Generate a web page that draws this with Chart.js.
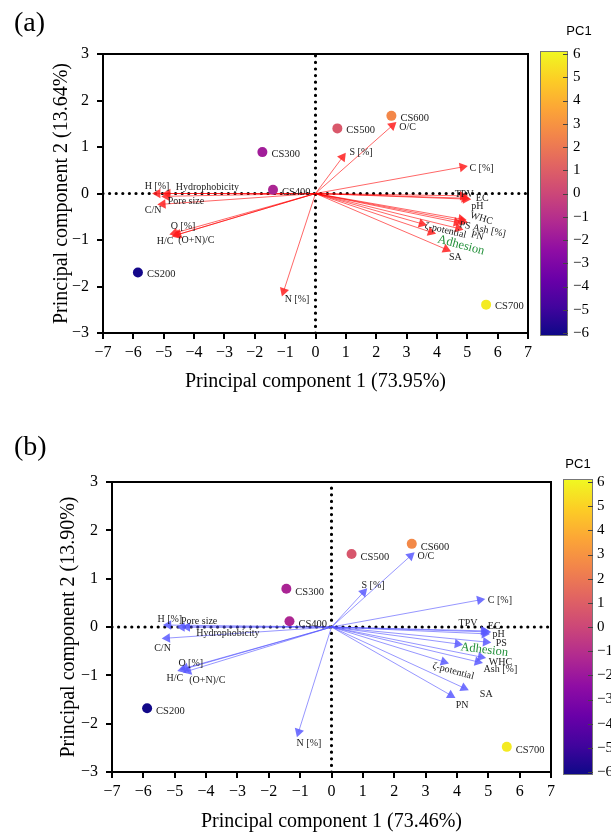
<!DOCTYPE html>
<html>
<head>
<meta charset="utf-8">
<script src="https://cdn.jsdelivr.net/npm/chart.js@4.4.1/dist/chart.umd.min.js"></script>
<style>
  body { margin: 0; background: #fff; }
  #wrap { position: relative; width: 611px; height: 835px; }
  .panel { position: absolute; left: 0; width: 611px; }
</style>
</head>
<body>
<div id="wrap">
  <div class="panel" style="top:0;height:417px"><canvas id="chartA"></canvas></div>
  <div class="panel" style="top:417px;height:418px"><canvas id="chartB"></canvas></div>
</div>
<script>
// sample scores
const samples = ['CS200', 'CS300', 'CS400', 'CS500', 'CS600', 'CS700'];
const pc1A = [-5.85, -1.75, -1.4, 0.72, 2.5, 5.62];
const pc2A = [-1.7, 0.89, 0.08, 1.4, 1.67, -2.39];
const pc1B = [-5.88, -1.44, -1.34, 0.64, 2.56, 5.59];
const pc2B = [-1.68, 0.79, 0.12, 1.51, 1.72, -2.48];

// loadings (arrow tips)
const variables = ['H [%]', 'Hydrophobicity', 'Pore size', 'C/N', 'O [%]', 'H/C', '(O+N)/C', 'N [%]', 'S [%]', 'O/C', 'C [%]',
  'TPV', 'EC', 'pH', 'WHC', 'PS', 'Ash [%]', 'PN', 'ζ-potential', 'Adhesion', 'SA'];
const loadXA = [-5.2, -4.87, -4.9, -5.03, -4.64, -4.57, -4.52, -1.05, 0.89, 2.53, 4.84, 4.85, 4.95, 4.9, 4.8, 4.65, 4.85, 4.7, 3.5, 3.8, 4.3];
const loadYA = [0.0, 0.0, -0.06, -0.23, -0.85, -0.89, -0.88, -2.1, 0.78, 1.46, 0.57, -0.05, -0.12, -0.1, -0.55, -0.62, -0.6, -0.75, -0.65, -0.83, -1.2];
const loadXB = [-5.2, -4.6, -4.77, -5.24, -4.66, -4.75, -4.57, -1.05, 1.02, 2.52, 4.73, 4.85, 4.92, 4.88, 4.76, 4.92, 4.66, 3.8, 3.58, 4.02, 4.22];
const loadYB = [0.04, 0.0, 0.0, -0.23, -0.85, -0.88, -0.91, -2.17, 0.72, 1.47, 0.56, -0.08, -0.1, -0.14, -0.62, -0.31, -0.72, -1.41, -0.72, -0.35, -1.26];

// ticks
const xTicks = [-7, -6, -5, -4, -3, -2, -1, 0, 1, 2, 3, 4, 5, 6, 7];
const yTicks = [-3, -2, -1, 0, 1, 2, 3];
const cbTicks = [-6, -5, -4, -3, -2, -1, 0, 1, 2, 3, 4, 5, 6];

// label placement (pixels from tip: dx, dy, rotation deg)
const offA = [[-13,-7,0],[8,-6,0],[1,5,0],[-18,6,0],[-4,-7,0],[-20,6,0],[0,6,0],[1,8,0],[7,-5,0],[7,2,0],[7,1,0],
  [-8,-1,0],[10,-1,0],[7,8,0],[9,-4,17],[3,2,12],[10,6,12],[13,6,15],[3,2,13],[7,7,15],[3,8,0]];
const offB = [[-11,-6,0],[9,6,0],[-1,-6,0],[-13,10,0],[-7,-5,0],[-16,9,0],[1,9,0],[-2,11,0],[-2,-7,0],[7,0,0],[8,0,0],
  [-25,-7,0],[2,-5,0],[8,1,0],[8,5,0],[10,1,0],[6,8,0],[5,10,0],[-11,4,15],[3,3,7],[16,6,0]];

const plasma = ['#0d0887','#41049d','#6a00a8','#8f0da4','#b12a90','#cc4778','#e16462','#f2844b','#fca636','#fcce25','#f0f921'];
function hex(c) { return [1, 3, 5].map(i => parseInt(c.substr(i, 2), 16)); }
function plasmaAt(v) {
  let t = Math.max(0, Math.min(1, (v + 6) / 12)) * 10;
  const i = Math.min(9, Math.floor(t)), f = t - i;
  const a = hex(plasma[i]), b = hex(plasma[i + 1]);
  return 'rgb(' + a.map((c, k) => Math.round(c + (b[k] - c) * f)).join(',') + ')';
}
const minus = v => String(v).replace('-', '\u2212');
const serif = 'Liberation Serif';

const decorPlugin = {
  id: 'decor',
  afterDatasetsDraw(chart, args, o) {
    const {ctx, scales: {x, y}} = chart;
    ctx.save();
    ctx.textBaseline = 'middle';
    ctx.textAlign = 'left';
    o.labels.forEach(l => {
      ctx.save();
      ctx.translate(x.getPixelForValue(l.x) + l.dx, y.getPixelForValue(l.y) + l.dy);
      ctx.rotate(l.rot * Math.PI / 180);
      ctx.font = (l.size || 10.5) + 'px ' + serif;
      ctx.fillStyle = l.color || '#1a1a1a';
      ctx.fillText(l.text, 0, 0);
      ctx.restore();
    });
    ctx.restore();
  },
  afterDraw(chart, args, o) {
    const {ctx, chartArea: a} = chart;
    const cb = chart.scales.cb;
    ctx.save();
    ctx.strokeStyle = '#000';
    ctx.lineWidth = 2;
    ctx.strokeRect(a.left, a.top, a.right - a.left, a.bottom - a.top);
    // colour bar
    const top = cb.getPixelForValue(6) - 3, bot = cb.getPixelForValue(-6) + 3;
    const x0 = cb.left + o.bar[0], x1 = cb.left + o.bar[1];
    const g = ctx.createLinearGradient(0, bot, 0, top);
    plasma.forEach((c, i) => g.addColorStop(i / 10, c));
    ctx.fillStyle = g;
    ctx.fillRect(x0, top, x1 - x0, bot - top);
    ctx.strokeStyle = '#777';
    ctx.lineWidth = 1;
    ctx.strokeRect(x0 + 0.5, top + 0.5, x1 - x0 - 1, bot - top - 1);
    ctx.strokeStyle = '#444';
    cbTicks.forEach(v => {
      const yy = Math.round(cb.getPixelForValue(v)) + 0.5;
      ctx.beginPath(); ctx.moveTo(x1 - 5, yy); ctx.lineTo(x1, yy); ctx.stroke();
    });
    ctx.fillStyle = '#000';
    ctx.textAlign = 'center';
    ctx.textBaseline = 'middle';
    ctx.font = '13px Liberation Sans';
    ctx.fillText('PC1', o.pc1Pos[0], o.pc1Pos[1]);
    ctx.textAlign = 'left';
    ctx.font = '28px ' + serif;
    ctx.fillText(o.panel, o.panelPos[0], o.panelPos[1]);
    ctx.restore();
  }
};

function makePanel(id, pc1, pc2, lx, ly, off, g) {
  const datasets = [];
  datasets.push({
    data: samples.map((s, i) => ({x: pc1[i], y: pc2[i]})),
    pointRadius: 5, pointHoverRadius: 5, borderWidth: 0,
    pointBackgroundColor: pc1.map(plasmaAt), order: 0
  });
  variables.forEach((v, i) => {
    datasets.push({
      data: [{x: 0, y: 0}, {x: lx[i], y: ly[i]}],
      showLine: true, borderColor: g.line, borderWidth: 1,
      pointRadius: [0, 5.5], pointHoverRadius: [0, 5.5],
      pointStyle: 'triangle', pointBackgroundColor: g.head, pointBorderWidth: 0,
      rotation: ctx => {
        if (ctx.type !== 'data' || !ctx.raw) return 0;
        const sx = ctx.chart.scales.x, sy = ctx.chart.scales.y;
        const dx = sx.getPixelForValue(ctx.raw.x) - sx.getPixelForValue(0);
        const dy = sy.getPixelForValue(ctx.raw.y) - sy.getPixelForValue(0);
        return Math.atan2(dx, -dy) * 180 / Math.PI;
      },
      order: 1
    });
  });
  const dots = {showLine: true, borderColor: '#000', borderWidth: 3.2, borderDash: [0, 6.6],
    borderCapStyle: 'round', pointRadius: 0, order: 2};
  datasets.push(Object.assign({data: [{x: -7, y: 0}, {x: 7, y: 0}]}, dots));
  datasets.push(Object.assign({data: [{x: 0, y: -3}, {x: 0, y: 3}]}, dots));

  const labels = samples.map((s, i) => ({text: s, x: pc1[i], y: pc2[i], dx: 9, dy: g.sDy, rot: 0}))
    .concat(variables.map((v, i) => ({
      text: v, x: lx[i], y: ly[i], dx: off[i][0], dy: off[i][1], rot: off[i][2],
      size: v === 'Adhesion' ? 12.5 : 10, color: v === 'Adhesion' ? '#23903a' : '#1a1a1a'
    })));

  const axisGrid = {drawOnChartArea: false, drawTicks: true, tickLength: 6, lineWidth: 2, color: '#000'};
  const axisBorder = {display: true, width: 2, color: '#000'};
  const tickFont = {family: serif, size: 16};

  return new Chart(document.getElementById(id), {
    type: 'scatter',
    data: {datasets: datasets},
    options: {
      responsive: true, maintainAspectRatio: false, animation: false,
      layout: {padding: {top: g.padTop, left: 0, right: 0, bottom: 0}},
      events: [],
      plugins: {legend: {display: false}, tooltip: {enabled: false},
        decor: {labels: labels, bar: g.bar, pc1Pos: g.pc1Pos, panel: g.panel, panelPos: g.panelPos}},
      scales: {
        x: {
          type: 'linear', position: 'bottom', min: -7, max: 7,
          afterBuildTicks: s => { s.ticks = xTicks.map(v => ({value: v})); },
          afterFit: s => { s.height = g.xH; },
          grid: axisGrid, border: axisBorder,
          ticks: {font: tickFont, color: '#000', padding: 4, maxRotation: 0, autoSkip: false, callback: minus},
          title: {display: true, text: g.xTitle, color: '#000', font: {family: serif, size: 20}, padding: {top: 0, bottom: g.xTitlePad}}
        },
        y: {
          type: 'linear', position: 'left', min: -3, max: 3,
          afterBuildTicks: s => { s.ticks = yTicks.map(v => ({value: v})); },
          afterFit: s => { s.width = g.yW; },
          grid: axisGrid, border: axisBorder,
          ticks: {font: tickFont, color: '#000', padding: 8, autoSkip: false, callback: minus},
          title: {display: true, text: g.yTitle, color: '#000', font: {family: serif, size: 20}, padding: {top: g.yTitlePad, bottom: 0}}
        },
        cb: {
          type: 'linear', position: 'right', min: -6, max: 6,
          afterBuildTicks: s => { s.ticks = cbTicks.map(v => ({value: v})); },
          afterFit: s => { s.width = g.cbW; },
          grid: {display: false, drawOnChartArea: false, drawTicks: false},
          border: {display: false},
          ticks: {font: {family: serif, size: 15}, color: '#000', padding: g.cbPad, autoSkip: false, callback: minus}
        }
      }
    },
    plugins: [decorPlugin]
  });
}

document.addEventListener('DOMContentLoaded', function() {
  makePanel('chartA', pc1A, pc2A, loadXA, loadYA, offA, {
    padTop: 50, yW: 103, xH: 84, cbW: 83, yTitlePad: 50, xTitlePad: 23, cbPad: 45, bar: [12, 40],
    pc1Pos: [579, 31], panel: '(a)', panelPos: [14, 24], sDy: 2,
    line: 'rgba(255,0,0,0.6)', head: 'rgba(255,30,30,0.85)',
    xTitle: 'Principal component 1 (73.95%)', yTitle: 'Principal component 2 (13.64%)'
  });
  makePanel('chartB', pc1B, pc2B, loadXB, loadYB, offB, {
    padTop: 65, yW: 112, xH: 63, cbW: 60, yTitlePad: 57, xTitlePad: 1, cbPad: 46, bar: [12, 42],
    pc1Pos: [578, 47], panel: '(b)', panelPos: [14, 31], sDy: 3,
    line: 'rgba(80,80,255,0.6)', head: 'rgba(90,90,255,0.85)',
    xTitle: 'Principal component 1 (73.46%)', yTitle: 'Principal component 2 (13.90%)'
  });
});
</script>
</body>
</html>
